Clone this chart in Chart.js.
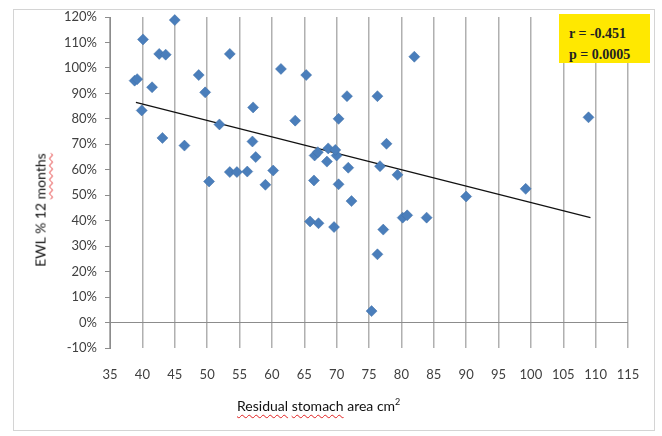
<!DOCTYPE html>
<html>
<head>
<meta charset="utf-8">
<script src="https://cdn.jsdelivr.net/npm/chart.js@4.4.1/dist/chart.umd.min.js"></script>
<style>
  html, body { margin: 0; padding: 0; background: #fff; }
  #wrap { position: relative; width: 662px; height: 436px; overflow: hidden; }
  #frame { position: absolute; left: 13px; top: 9px; width: 642px; height: 422px; border: 1px solid #d4d4d4; box-sizing: border-box; }
  canvas { position: absolute; left: 0; top: 0; }
  .ttl { position: absolute; font-family: Lato, 'Open Sans', sans-serif; font-size: 14px; color: #111; white-space: nowrap; }
  .sq { text-decoration: underline wavy #e02020; text-decoration-thickness: 1px; text-underline-offset: 3px; }
  #ytitle { left: 40px; top: 210px; transform: translate(-50%, -50%) rotate(-90deg); }
  #xtitle { left: 237px; top: 396px; }
  #stats { position: absolute; left: 559px; top: 14px; width: 91px; height: 49px; background: #ffe800;
           font-family: 'Liberation Serif', 'DejaVu Serif', serif; font-weight: bold; font-size: 14px; color: #222;
           box-sizing: border-box; padding: 9px 0 0 10px; line-height: 21px; }
</style>
</head>
<body>
<div id="wrap">
  <div id="frame"></div>
  <canvas id="chart" width="662" height="436"></canvas>
  <div class="ttl" id="ytitle">EWL % 12 <span class="sq">months</span></div>
  <div class="ttl" id="xtitle"><span class="sq">Residual</span> <span class="sq">stomach</span> area cm<sup style="font-size:9px">2</sup></div>
  <div id="stats">r = -0.451<br>p = 0.0005</div>
</div>
<script>
// residual stomach area (cm2) vs EWL at 12 months (%)
const areaCm2 = [
  38.8, 39.2, 40.1, 39.9, 41.5, 42.6, 43.6, 43.1, 45.0, 46.5,
  48.7, 49.7, 50.3, 51.9, 53.5, 53.5, 54.6, 56.2, 57.1, 57.0,
  57.5, 59.0, 60.2, 61.4, 63.6, 65.3, 66.6, 67.1, 68.5, 68.7,
  70.0, 69.8, 66.5, 65.9, 67.2, 69.6, 70.3, 70.3, 71.6, 71.8,
  72.3, 76.3, 77.7, 76.7, 79.4, 80.2, 80.9, 83.9, 77.2, 76.3,
  75.4, 82.0, 90.0, 99.2, 108.9
];
const ewlPct = [
  95.0, 95.6, 111.2, 83.3, 92.4, 105.5, 105.2, 72.5, 118.8, 69.5,
  97.2, 90.4, 55.4, 77.8, 105.5, 59.1, 59.1, 59.3, 84.5, 71.1,
  65.0, 54.1, 59.7, 99.6, 79.3, 97.2, 65.6, 66.9, 63.2, 68.4,
  65.6, 67.8, 55.8, 39.7, 39.0, 37.5, 54.3, 80.0, 88.9, 60.8,
  47.7, 88.9, 70.2, 61.4, 58.0, 41.2, 42.1, 41.2, 36.5, 26.8,
  4.5, 104.4, 49.5, 52.5, 80.6
];
// linear trend line end points
const trendX = [39.0, 109.2];
const trendY = [86.5, 41.2];

const xTicks = { min: 35, max: 115, step: 5 };
const yTicks = { min: -10, max: 120, step: 10 };

const AXIS_GREY = '#8c8c8c';
const GRID_GREY = '#b0b0b0';
const TICK_FONT = { family: "Lato, 'Open Sans', sans-serif", size: 13 };

const points = areaCm2.map((x, i) => ({ x, y: ewlPct[i] }));
const trend = trendX.map((x, i) => ({ x, y: trendY[i] }));

new Chart(document.getElementById('chart'), {
  type: 'scatter',
  data: {
    datasets: [
      {
        label: 'EWL',
        data: points,
        clip: false,
        pointStyle: 'rectRot',
        pointRadius: 5.5,
        backgroundColor: '#4a7ebb',
        borderColor: '#3e6ea6',
        borderWidth: 0.5,
      },
      {
        label: 'Linear',
        data: trend,
        showLine: true,
        borderColor: '#111',
        borderWidth: 1.2,
        pointRadius: 0,
      },
    ],
  },
  options: {
    responsive: false,
    animation: false,
    layout: { padding: { left: 0, top: 17, right: 34, bottom: 0 } },
    plugins: { legend: { display: false }, tooltip: { enabled: false } },
    scales: {
      x: {
        type: 'linear',
        min: xTicks.min,
        max: xTicks.max,
        afterFit: (s) => { s.height = 88; },
        ticks: { stepSize: xTicks.step, color: '#404040', font: TICK_FONT, padding: 19 },
        grid: { color: GRID_GREY, lineWidth: 1.5, drawTicks: false },
        border: { display: false },
      },
      y: {
        min: yTicks.min,
        max: yTicks.max,
        afterFit: (s) => { s.width = 110; },
        ticks: {
          stepSize: yTicks.step,
          color: '#404040',
          font: TICK_FONT,
          padding: 8,
          callback: (v) => v + '%',
        },
        grid: {
          color: (ctx) => (ctx.tick && ctx.tick.value === 0 ? AXIS_GREY : 'rgba(0,0,0,0)'),
          tickColor: AXIS_GREY,
          tickLength: 5,
        },
        border: { display: true, color: AXIS_GREY },
      },
    },
  },
});
</script>
</body>
</html>
